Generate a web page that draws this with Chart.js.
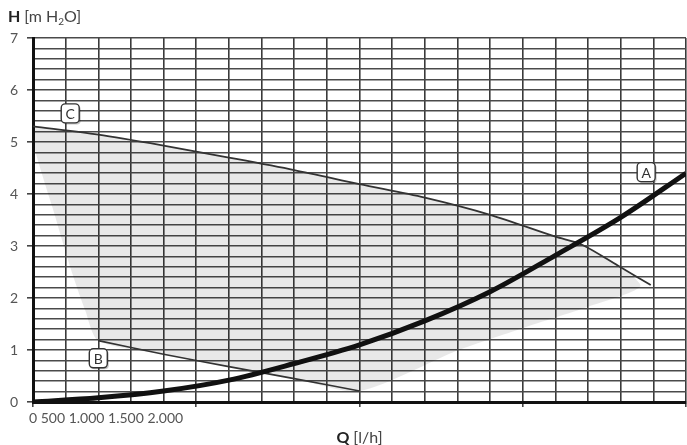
<!DOCTYPE html>
<html>
<head>
<meta charset="utf-8">
<script src="https://cdn.jsdelivr.net/npm/chart.js@4.4.1/dist/chart.umd.min.js"></script>
<style>
    html, body { margin: 0; padding: 0; background: #fff; }
    #wrap { width: 687px; height: 445px; }
</style>
</head>
<body>
<div id="wrap"><canvas id="pumpChart" width="687" height="445"></canvas></div>
<script>
// =============================================
// DATA  (Q in l/h, H in m H2O)
// =============================================
const curveAQ = [0, 1000, 2000, 3000, 4000, 5000, 6000, 7000, 8000, 9000, 10000];
const curveAH = [0, 0.08, 0.21, 0.42, 0.74, 1.10, 1.56, 2.12, 2.82, 3.55, 4.40];

const curveBQ = [1000, 2000, 3000, 4000, 5000];
const curveBH = [1.18, 0.92, 0.68, 0.45, 0.21];

const curveCQ = [0, 1000, 2000, 3000, 4000, 5000, 6000, 7000, 8000, 8400, 9000, 9460];
const curveCH = [5.30, 5.14, 4.93, 4.70, 4.46, 4.19, 3.93, 3.60, 3.18, 3.03, 2.59, 2.25];

// grey working range: lower right edge and left edge
const rangeRightQ = [9300, 8500, 7500, 6500, 5000];
const rangeRightH = [2.22, 1.83, 1.42, 0.99, 0.21];
const rangeLeftQ = [1000, 800, 620, 460, 310, 150, 0];
const rangeLeftH = [1.18, 1.76, 2.40, 3.05, 3.69, 4.33, 5.00];

// curve name tags
const curveNames = ["A", "B", "C"];
const nameQ = [9390, 1000, 570];
const nameH = [4.42, 0.84, 5.55];

const xTickText = "0 500 1.000 1.500 2.000";

const FONT = "Lato, 'Open Sans', sans-serif";

function toXY(qs, hs) {
    return qs.map((q, i) => ({ x: q, y: hs[i] }));
}

// build the closed outline of the grey area
function buildRange() {
    const top = toXY(curveCQ, curveCH).filter(p => p.x <= 9000);
    const right = toXY(rangeRightQ, rangeRightH);
    const bottom = toXY(curveBQ, curveBH).reverse().slice(1);
    const left = toXY(rangeLeftQ, rangeLeftH).slice(1);
    return [...top, ...right, ...bottom, ...left, top[0]];
}

// =============================================
// TEXT + TAGS PLUGIN
// =============================================
const chartText = {
    id: "chartText",
    afterDatasetsDraw(chart) {
        const { ctx, scales: { x, y } } = chart;
        ctx.save();
        curveNames.forEach((name, i) => {
            const cx = x.getPixelForValue(nameQ[i]);
            const cy = y.getPixelForValue(nameH[i]);
            const w = 18, h = 19;
            // soft shadow
            ctx.fillStyle = "rgba(0,0,0,0.22)";
            ctx.beginPath();
            ctx.roundRect(cx - w / 2 + 1.5, cy - h / 2 + 1.5, w, h, 4);
            ctx.fill();
            ctx.fillStyle = "#fff";
            ctx.strokeStyle = "#333";
            ctx.lineWidth = 1.4;
            ctx.beginPath();
            ctx.roundRect(cx - w / 2, cy - h / 2, w, h, 4);
            ctx.fill();
            ctx.stroke();
            ctx.fillStyle = "#333";
            ctx.font = "14px " + FONT;
            ctx.textAlign = "center";
            ctx.textBaseline = "middle";
            ctx.fillText(name, cx, cy + 1);
        });
        ctx.restore();
    },
    afterDraw(chart) {
        const { ctx, chartArea } = chart;
        ctx.save();
        ctx.textBaseline = "alphabetic";
        ctx.textAlign = "left";

        // y title: H [m H2O]
        let px = 8;
        const py = 22;
        ctx.fillStyle = "#222";
        ctx.font = "bold 16px " + FONT;
        ctx.fillText("H", px, py);
        px += ctx.measureText("H ").width;
        ctx.fillStyle = "#444";
        ctx.font = "16px " + FONT;
        ctx.fillText("[m H", px, py);
        px += ctx.measureText("[m H").width;
        ctx.font = "10px " + FONT;
        ctx.fillText("2", px, py + 3);
        px += ctx.measureText("2").width;
        ctx.font = "16px " + FONT;
        ctx.fillText("O]", px, py);

        // x tick text
        ctx.fillStyle = "#555";
        ctx.font = "14px " + FONT;
        ctx.textBaseline = "middle";
        ctx.fillText(xTickText, 29, 418);

        // x title: Q [l/h]
        ctx.textBaseline = "alphabetic";
        ctx.font = "bold 16px " + FONT;
        const qW = ctx.measureText("Q ").width;
        ctx.font = "16px " + FONT;
        const restW = ctx.measureText("[l/h]").width;
        let tx = (chartArea.left + chartArea.right) / 2 - (qW + restW) / 2;
        ctx.fillStyle = "#222";
        ctx.font = "bold 16px " + FONT;
        ctx.fillText("Q", tx, 443);
        ctx.fillStyle = "#444";
        ctx.font = "16px " + FONT;
        ctx.fillText("[l/h]", tx + qW, 443);
        ctx.restore();
    }
};

// =============================================
// CHART
// =============================================
const isWhole = v => Math.abs(v - Math.round(v)) < 1e-6;

new Chart(document.getElementById("pumpChart"), {
    type: "line",
    data: {
        datasets: [
            {
                label: "A",
                data: toXY(curveAQ, curveAH),
                borderColor: "#111",
                borderWidth: 5,
                cubicInterpolationMode: "monotone",
                pointRadius: 0,
                fill: false,
                order: 0
            },
            {
                label: "C",
                data: toXY(curveCQ, curveCH),
                borderColor: "#333",
                borderWidth: 1.8,
                tension: 0.3,
                pointRadius: 0,
                fill: false,
                order: 1
            },
            {
                label: "B",
                data: toXY(curveBQ, curveBH),
                borderColor: "#333",
                borderWidth: 1.6,
                tension: 0.3,
                pointRadius: 0,
                fill: false,
                order: 2
            },
            {
                label: "range",
                data: buildRange(),
                borderWidth: 0,
                borderColor: "rgba(0,0,0,0)",
                backgroundColor: "rgba(0,0,0,0.09)",
                tension: 0.25,
                pointRadius: 0,
                fill: "shape",
                order: 3
            }
        ]
    },
    options: {
        responsive: false,
        animation: false,
        layout: { padding: { top: 38, right: 1, left: 0, bottom: 0 } },
        plugins: {
            legend: { display: false },
            tooltip: { enabled: false }
        },
        scales: {
            x: {
                type: "linear",
                min: 0,
                max: 10000,
                ticks: { display: false, stepSize: 500, autoSkip: false },
                grid: {
                    color: "#3a3a3a",
                    lineWidth: 1.6,
                    tickLength: 5,
                    tickColor: c => (c.tick && c.tick.value % 2500 === 0) ? "#444" : "rgba(0,0,0,0)"
                },
                border: { color: "#111", width: 3 },
                afterFit: s => { s.height = 43; }
            },
            y: {
                min: 0,
                max: 7,
                ticks: {
                    stepSize: 0.2,
                    autoSkip: false,
                    padding: 9,
                    color: "#555",
                    font: { family: FONT, size: 14 },
                    callback: v => isWhole(v) ? String(Math.round(v)) : ""
                },
                grid: {
                    color: "#4a4a4a",
                    lineWidth: 1.6,
                    tickLength: 6,
                    tickColor: c => (c.tick && isWhole(c.tick.value)) ? "#444" : "rgba(0,0,0,0)"
                },
                border: { color: "#111", width: 3 },
                afterFit: s => { s.width = 33; }
            }
        }
    },
    plugins: [chartText]
});
</script>
</body>
</html>
